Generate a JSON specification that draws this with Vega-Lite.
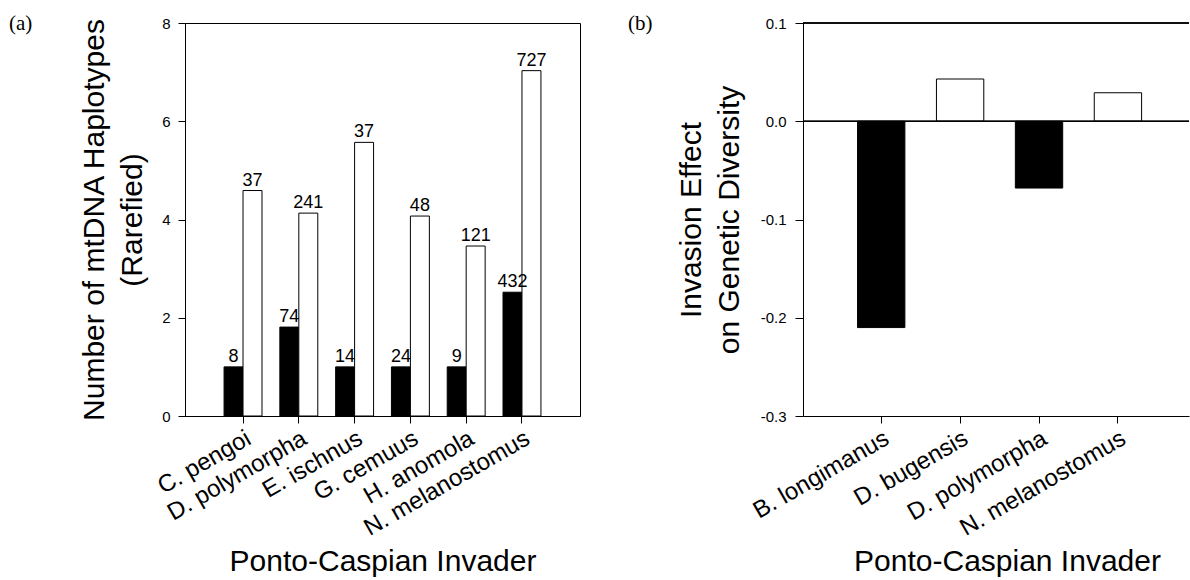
{
  "$schema": "https://vega.github.io/schema/vega-lite/v6.json",
  "background": "white",
  "padding": {"left": 8, "top": 12, "right": 0, "bottom": 0},
  "config": {
    "font": "Liberation Sans",
    "view": {"stroke": "black", "strokeWidth": 1},
    "axis": {
      "grid": false,
      "domainColor": "black",
      "tickColor": "black",
      "labelColor": "black",
      "titleColor": "black",
      "labelFont": "Liberation Sans",
      "titleFont": "Liberation Sans",
      "titleFontWeight": "normal"
    }
  },
  "spacing": 223,
  "bounds": "flush",
  "hconcat": [
    {
      "width": 395,
      "height": 393,
      "title": {"text": "(a)", "anchor": "start", "frame": "group", "font": "Liberation Serif", "fontSize": 21, "fontWeight": "normal", "baseline": "alphabetic", "offset": -35, "dx": -176, "color": "black"},
      "data": {"values": [
        {"species": "C. pengoi", "range": "Introduced", "haplotypes": 1.0, "n": 8},
        {"species": "C. pengoi", "range": "Native", "haplotypes": 4.59, "n": 37},
        {"species": "D. polymorpha", "range": "Introduced", "haplotypes": 1.81, "n": 74},
        {"species": "D. polymorpha", "range": "Native", "haplotypes": 4.13, "n": 241},
        {"species": "E. ischnus", "range": "Introduced", "haplotypes": 1.0, "n": 14},
        {"species": "E. ischnus", "range": "Native", "haplotypes": 5.57, "n": 37},
        {"species": "G. cemuus", "range": "Introduced", "haplotypes": 1.0, "n": 24},
        {"species": "G. cemuus", "range": "Native", "haplotypes": 4.07, "n": 48},
        {"species": "H. anomola", "range": "Introduced", "haplotypes": 1.0, "n": 9},
        {"species": "H. anomola", "range": "Native", "haplotypes": 3.46, "n": 121},
        {"species": "N. melanostomus", "range": "Introduced", "haplotypes": 2.52, "n": 432},
        {"species": "N. melanostomus", "range": "Native", "haplotypes": 7.03, "n": 727}
      ]},
      "encoding": {
        "x": {
          "field": "species", "type": "nominal", "sort": null,
          "scale": {"paddingInner": 0.32, "paddingOuter": 0.7},
          "axis": {
            "title": "Ponto-Caspian Invader", "titleFontSize": 30, "titleY": 154, "titleBaseline": "alphabetic",
            "labelAngle": -30, "labelAlign": "right", "labelBaseline": "top", "labelFontSize": 24, "labelLimit": 400,
            "labelPadding": 3, "tickSize": 7
          }
        },
        "xOffset": {"field": "range", "type": "nominal", "sort": ["Introduced", "Native"], "scale": {"paddingInner": 0, "paddingOuter": 0}},
        "y": {
          "field": "haplotypes", "type": "quantitative",
          "scale": {"domain": [0, 8], "nice": false},
          "axis": {
            "title": ["Number of mtDNA Haplotypes", "(Rarefied)"], "titleFontSize": 30, "titleLineHeight": 38,
            "titleX": -82, "titleY": 196.5, "titleAngle": -90, "titleBaseline": "alphabetic", "titleAlign": "center",
            "values": [0, 2, 4, 6, 8], "tickSize": 7, "labelPadding": 8, "labelFontSize": 15
          }
        }
      },
      "layer": [
        {
          "mark": {"type": "bar", "stroke": "black", "strokeWidth": 1},
          "encoding": {
            "fill": {"field": "range", "type": "nominal", "scale": {"domain": ["Introduced", "Native"], "range": ["black", "white"]}, "legend": null}
          }
        },
        {
          "mark": {"type": "text", "baseline": "alphabetic", "dy": -5, "fontSize": 18, "font": "Liberation Sans", "color": "black"},
          "encoding": {"text": {"field": "n", "type": "quantitative"}}
        }
      ]
    },
    {
      "width": 386,
      "height": 393,
      "view": {"stroke": null},
      "title": {"text": "(b)", "anchor": "start", "frame": "group", "font": "Liberation Serif", "fontSize": 21, "fontWeight": "normal", "baseline": "alphabetic", "offset": -35, "dx": -175, "color": "black"},
      "data": {"values": [
        {"invader": "B. longimanus", "effect": -0.21, "sign": "negative"},
        {"invader": "D. bugensis", "effect": 0.043, "sign": "positive"},
        {"invader": "D. polymorpha", "effect": -0.068, "sign": "negative"},
        {"invader": "N. melanostomus", "effect": 0.029, "sign": "positive"}
      ]},
      "layer": [
        {
          "mark": {"type": "bar", "stroke": "black", "strokeWidth": 1},
          "encoding": {
            "x": {
              "field": "invader", "type": "nominal", "sort": null,
              "scale": {"paddingInner": 0.4, "paddingOuter": 0.646, "align": 0.535},
              "axis": {
                "title": "Ponto-Caspian Invader", "titleFontSize": 30, "titleX": 204, "titleY": 154, "titleBaseline": "alphabetic",
                "labelAngle": -30, "labelAlign": "right", "labelBaseline": "top", "labelFontSize": 24, "labelLimit": 400,
                "labelPadding": 3, "tickSize": 7
              }
            },
            "y": {
              "field": "effect", "type": "quantitative",
              "scale": {"domain": [-0.3, 0.1], "nice": false, "zero": false},
              "axis": {
                "title": ["Invasion Effect", "on Genetic Diversity"], "titleFontSize": 30, "titleLineHeight": 38,
                "titleX": -102.7, "titleY": 196.5, "titleAngle": -90, "titleBaseline": "alphabetic", "titleAlign": "center",
                "values": [-0.3, -0.2, -0.1, 0, 0.1], "labelExpr": "replace(format(datum.value, '.1f'), '\u2212', '-')",
                "tickSize": 8, "labelPadding": 9, "labelFontSize": 15
              }
            },
            "fill": {"field": "sign", "type": "nominal", "scale": {"domain": ["negative", "positive"], "range": ["black", "white"]}, "legend": null}
          }
        },
        {
          "mark": {"type": "rule", "color": "black", "strokeWidth": 1},
          "encoding": {"y": {"datum": 0}}
        },
        {
          "mark": {"type": "rule", "color": "black", "strokeWidth": 1},
          "encoding": {"y": {"datum": 0.1}}
        }
      ]
    }
  ]
}
